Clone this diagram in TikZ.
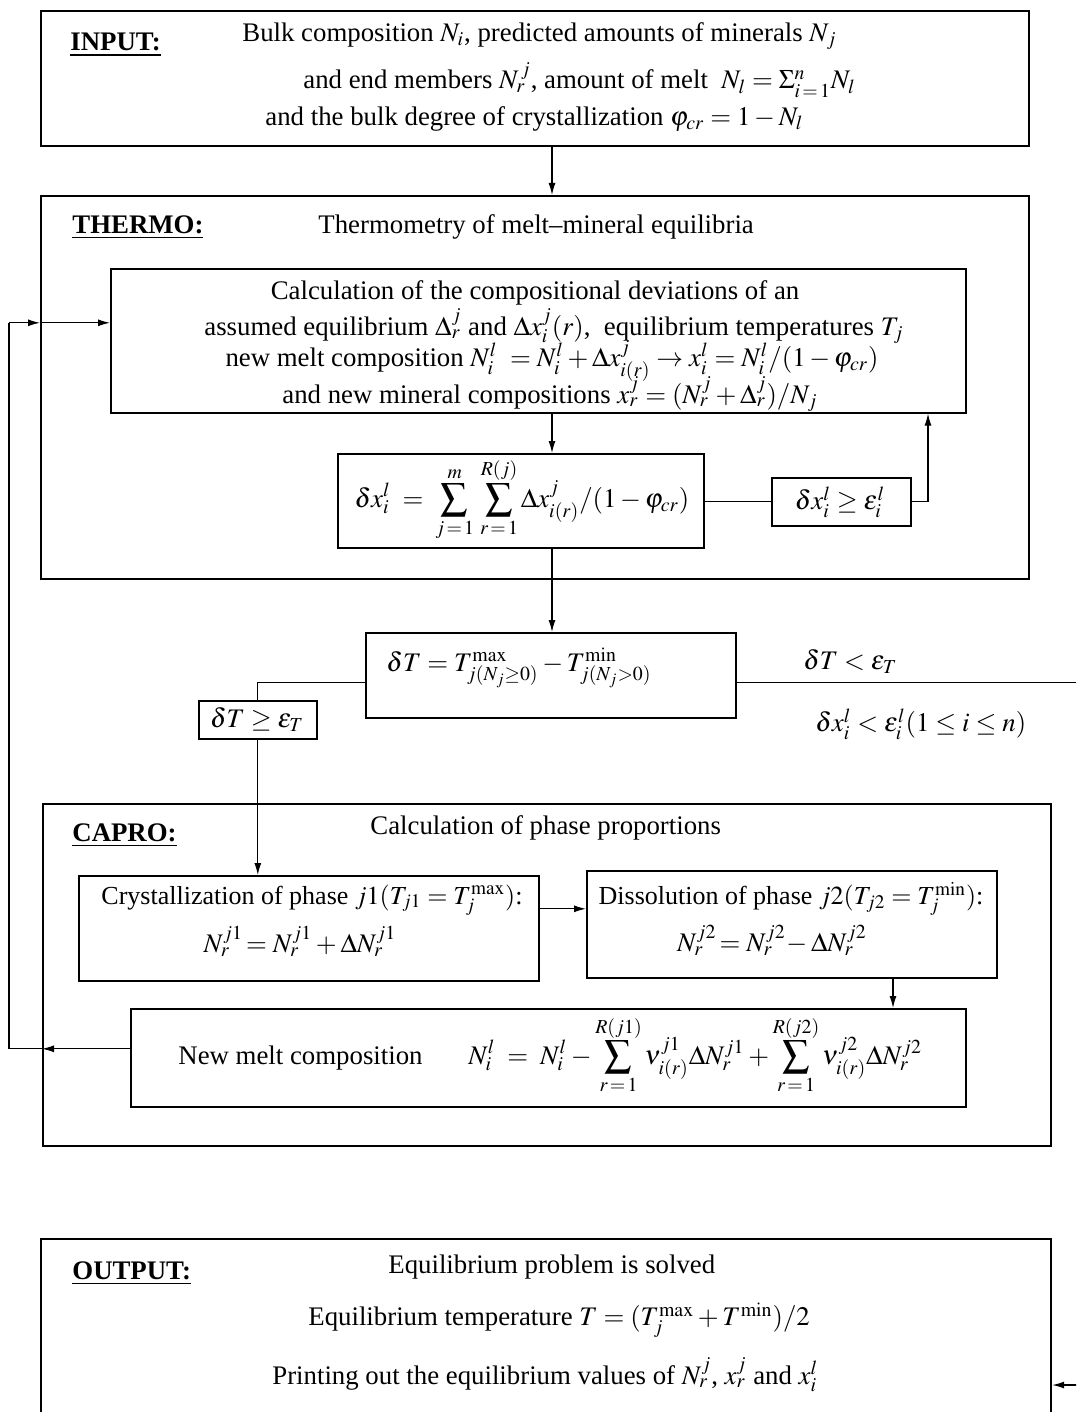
\documentclass[tikz,border=0pt]{standalone}
\usepackage{mathptmx}
\usepackage[no-math]{fontspec}
\setmainfont{Liberation Serif}
\usepackage{amsmath}
\usepackage{tikz}
\usetikzlibrary{positioning,arrows.meta}

\newcommand{\flowfont}{\fontsize{13.4pt}{15.5pt}\selectfont}

\tikzset{
  outerbox/.style={draw, line width=1.1pt, anchor=north west, inner sep=0pt},
  innerbox/.style={draw, line width=0.8pt, anchor=north west, inner sep=0pt},
  txt/.style={anchor=west, inner sep=0pt},
  ctxt/.style={anchor=center, inner sep=0pt},
  lbl/.style={anchor=west, inner sep=0pt, font=\flowfont\bfseries},
  conn/.style={line width=0.6pt},
  arr/.style={conn, -{Latex[length=6pt,width=3.5pt]}}
}

\begin{document}
\begin{tikzpicture}[x=0.5pt, y=-0.5pt, font=\flowfont]
    \useasboundingbox (0,0) rectangle (1076,1412);
    \clip (0,0) rectangle (1076,1412);

    % INPUT
    \node[outerbox, minimum width=494pt, minimum height=67.5pt] (input) at (40,10) {};
    \node[lbl] (inputlbl) at (70,45) {\underline{INPUT:}};
    \node[txt] (in1) at (242,36) {Bulk composition $N_i$, predicted amounts of minerals $N_j$};
    \node[txt] (in2) at (303,80) {and end members $N_r^{\,j}$, amount of melt \ $N_l = \Sigma_{i\,=\,1}^{n}N_l$};
    \node[txt] (in3) at (265,119) {and the bulk degree of crystallization $\varphi_{cr} = 1 - N_l$};

    % THERMO
    \node[outerbox, minimum width=494pt, minimum height=191.5pt] (thermo) at (40,195) {};
    \node[lbl] (thermolbl) at (72,227) {\underline{THERMO:}};
    \node[txt] (thermotit) at (318,227) {Thermometry of melt--mineral equilibria};

    \node[innerbox, minimum width=427.5pt, minimum height=72pt] (calc) at (110,268) {};
    \node[ctxt] (calc1) at (535,293) {Calculation of the compositional deviations of an};
    \node[ctxt] (calc2) at (554,326) {assumed equilibrium $\Delta_r^j$ and $\Delta x_i^j(r)$, \ equilibrium temperatures $T_j$};
    \node[ctxt] (calc3) at (552,361) {new melt composition $N_i^l\ = N_i^l + \Delta x_{i(r)}^j \rightarrow x_i^l = N_i^l/(1-\varphi_{cr})$};
    \node[ctxt] (calc4) at (550,394) {and new mineral compositions $x_r^j = (N_r^j + \Delta_r^j)/N_j$};

    \node[innerbox, minimum width=183pt, minimum height=47pt] (sum) at (337,453) {};
    \node[ctxt] (sumtxt) at (522,500) {$\displaystyle \delta x_i^l \;=\; \sum_{j\,=\,1}^{m}\,\sum_{r\,=\,1}^{R(j)} \Delta x_{i(r)}^j/(1-\varphi_{cr})$};

    \node[innerbox, minimum width=69.5pt, minimum height=24pt] (cond) at (771,477) {};
    \node[ctxt] (condtxt) at (840,502) {$\delta x_i^l \ge \varepsilon_i^l$};

    % temperature check
    \node[innerbox, minimum width=185pt, minimum height=42.5pt] (dT) at (365,632) {};
    \node[ctxt] (dTtxt) at (519,668) {$\delta T = T^{\max}_{j(N_j \ge 0)} - T^{\min}_{j(N_j > 0)}$};

    \node[innerbox, minimum width=59pt, minimum height=19pt] (dTge) at (198,700) {};
    \node[ctxt] (dTgetxt) at (257,720) {$\delta T \ge \varepsilon_T$};

    \node[txt] (dtless) at (803,662) {$\delta T < \varepsilon_T$};
    \node[txt] (dxless) at (815,724) {$\delta x_i^l < \varepsilon_i^l(1 \le i \le n)$};

    % CAPRO
    \node[outerbox, minimum width=504pt, minimum height=171pt] (capro) at (42,803) {};
    \node[lbl] (caprolbl) at (72,835) {\underline{CAPRO:}};
    \node[txt] (caprotit) at (370,828) {Calculation of phase proportions};

    \node[innerbox, minimum width=230pt, minimum height=52.5pt] (crys) at (78,875) {};
    \node[ctxt, font=\fontsize{13pt}{15pt}\selectfont] (crys1) at (312,900) {Crystallization of phase $j1(T_{j1} = T_j^{\max})$:};
    \node[ctxt] (crys2) at (300,941) {$N_r^{j1}\!= N_r^{j1} + \Delta N_r^{j1}$};

    \node[innerbox, minimum width=205pt, minimum height=53.5pt] (diss) at (586,870) {};
    \node[ctxt, font=\fontsize{13pt}{15pt}\selectfont] (diss1) at (791,899) {Dissolution of phase $j2(T_{j2} = T_j^{\min})$:};
    \node[ctxt] (diss2) at (772,940) {$N_r^{j2}\!= N_r^{j2}\!- \Delta N_r^{j2}$};

    \node[innerbox, minimum width=417.5pt, minimum height=49pt] (newmelt) at (130,1008) {};
    \node[txt] (newmelt1) at (178,1058) {New melt composition};
    \node[txt] (newmelt2) at (468,1055) {$\displaystyle N_i^l \;=\; N_i^l - \sum_{r\,=\,1}^{R(j1)} \nu_{i(r)}^{j1}\Delta N_r^{j1} + \sum_{r\,=\,1}^{R(j2)} \nu_{i(r)}^{j2}\Delta N_r^{j2}$};

    % OUTPUT
    \node[outerbox, minimum width=505pt, minimum height=101pt] (output) at (40,1238) {};
    \node[lbl] (outputlbl) at (72,1273) {\underline{OUTPUT:}};
    \node[txt] (out1) at (388,1267) {Equilibrium problem is solved};
    \node[txt] (out2) at (308,1320) {Equilibrium temperature $T = (T_j^{\max} + T^{\min})/2$};
    \node[txt] (out3) at (272,1375) {Printing out the equilibrium values of $N_r^j$, $x_r^j$ and $x_i^l$};

    % connectors
    \coordinate (spine) at (552,0);
    \coordinate (back) at (928,0);
    \coordinate (down2) at (893,0);
    \coordinate (loopx) at (9,0);
    \coordinate (outin) at (1090,1385);
    \coordinate (fbA) at ([yshift=4.5pt]newmelt.west);
    \coordinate (fbB) at ([yshift=9pt]calc.west);
    \coordinate (dTr) at ([yshift=-3.75pt]dT.east);
    \coordinate (dTl) at ([yshift=-3.75pt]dT.west);

    \draw[arr] (input.south -| spine) -- (thermo.north -| spine);
    \draw[arr] (calc.south -| spine) -- (sum.north -| spine);
    \draw[conn] (sum.east |- cond.west) -- (cond.west);
    \draw[arr] (cond.east) -| (calc.south -| back);
    \draw[arr] (sum.south -| spine) -- (dT.north -| spine);
    \draw[conn] (dTr) -- (dTr -| outin);
    \draw[conn] (dTl) -| (dTge.north);
    \draw[arr] (dTge.south) -- (dTge.south |- crys.north);
    \draw[arr] ([yshift=9.75pt]crys.east) -- ([yshift=9.75pt]crys.east -| diss.west);
    \draw[arr] (diss.south -| down2) -- (newmelt.north -| down2);
    \draw[arr] (fbA) -- (fbA -| capro.west);
    \draw[conn] (fbA -| capro.west) -- (fbA -| loopx) -- (fbB -| loopx);
    \draw[arr] (fbB -| loopx) -- (fbB -| thermo.west);
    \draw[arr] (fbB -| thermo.west) -- (fbB);
    \draw[arr] (outin) -- (outin -| output.east);
\end{tikzpicture}
\end{document}
